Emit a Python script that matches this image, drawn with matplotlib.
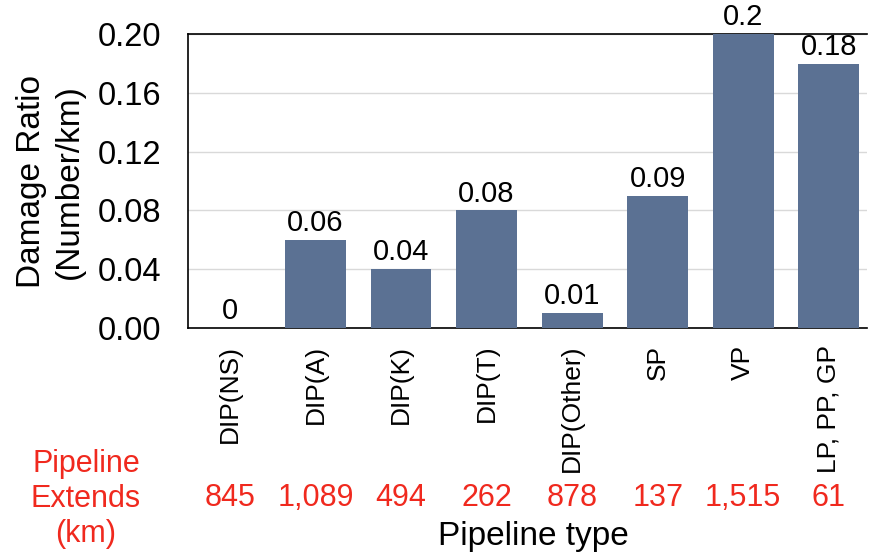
import matplotlib.pyplot as plt

plt.rcParams['font.family'] = ['Liberation Sans', 'DejaVu Sans']

pipe_types = ["DIP(NS)", "DIP(A)", "DIP(K)", "DIP(T)", "DIP(Other)", "SP", "VP", "LP, PP, GP"]
damage_ratio = [0, 0.06, 0.04, 0.08, 0.01, 0.09, 0.2, 0.18]
bar_labels = ["0", "0.06", "0.04", "0.08", "0.01", "0.09", "0.2", "0.18"]
extends_km = ["845", "1,089", "494", "262", "878", "137", "1,515", "61"]
yticks = [0.00, 0.04, 0.08, 0.12, 0.16, 0.20]

fig = plt.figure(figsize=(8.72, 5.6), dpi=100)
ax = fig.add_axes([0.2156, 0.4143, 0.779, 0.5247])

x = range(len(pipe_types))
ax.bar(x, damage_ratio, width=0.71, color="#5b7193", zorder=3)
for i, (v, lab) in enumerate(zip(damage_ratio, bar_labels)):
    ax.text(i, v + 0.002, lab, ha="center", va="bottom", fontsize=21)

ax.set_ylim(0, 0.2)
ax.set_xlim(-0.49, 7.45)
ax.set_yticks(yticks)
ax.set_yticklabels([f"{t:.2f}" for t in yticks], fontsize=23.5)
ax.yaxis.grid(True, color="#d9d9d9", linewidth=1, zorder=0)
ax.set_xticks(list(x))
ax.set_xticklabels(pipe_types, rotation=90, fontsize=19, va="top")
ax.tick_params(axis="y", length=0, pad=19)
ax.tick_params(axis="x", length=0, pad=12)
ax.spines["right"].set_visible(False)
for s in ["left", "top", "bottom"]:
    ax.spines[s].set_linewidth(1.2)

fig.text(0.058, 0.675, "Damage Ratio\n(Number/km)", rotation=90, ha="center", va="center",
         fontsize=24, linespacing=1.3)

# pipeline extents row
red = "#f0291e"
for i, val in enumerate(extends_km):
    xd = ax.transData.transform((i, 0))[0]
    xf = fig.transFigure.inverted().transform((xd, 0))[0]
    fig.text(xf, 1 - 498 / 560, val, color=red, ha="center", va="center", fontsize=22)
fig.text(86 / 872, 1 - 499 / 560, "Pipeline\nExtends\n(km)", color=red, ha="center",
         va="center", fontsize=22, linespacing=1.2)
fig.text(533 / 872, 1 - 537 / 560, "Pipeline type", ha="center", va="center", fontsize=24)

fig.savefig("out.png", dpi=100)
